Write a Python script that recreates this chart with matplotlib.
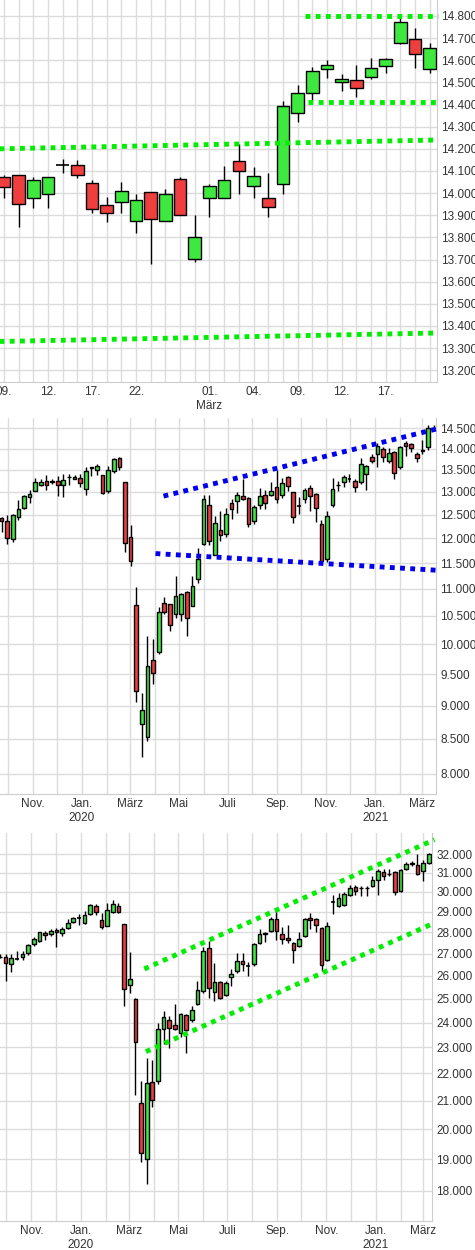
import matplotlib
matplotlib.use("Agg")

import numpy as np
import pandas as pd
import matplotlib.pyplot as plt
import matplotlib.dates as mdates
from matplotlib.ticker import FixedLocator, FuncFormatter, NullLocator

plt.rcParams['font.family'] = ['Liberation Sans', 'DejaVu Sans']

GREEN = "#3ee83e"
RED = "#ee3e3e"
LINE_GREEN = "#00ee00"
LINE_BLUE = "#0000ee"
GRID = "#dcdcdc"

# ---- Panel 1: daily, 09. Feb - 22. Mar 2021 ----
day_labels = ["09.", "", "", "12.", "", "", "17.", "", "", "22.", "", "", "", "",
              "01.", "", "", "04.", "", "", "09.", "", "", "12.", "", "", "17.", "", "", ""]
d_open = [14074, 14084, 13980, 13994, 14129, 14125, 14046, 13948, 13962, 13876,
          14003, 13876, 14064, 13704, 13980, 13980, 14146, 14034, 13980, 14043,
          14360, 14450, 14559, 14500, 14513, 14525, 14572, 14676, 14697, 14559]
d_close = [14029, 13953, 14061, 14071, 14129, 14084, 13930, 13908, 14010, 13971,
           13885, 13994, 13899, 13804, 14033, 14061, 14098, 14075, 13938, 14394,
           14450, 14550, 14577, 14515, 14473, 14563, 14604, 14771, 14628, 14654]
d_high = [14081, 14084, 14071, 14071, 14152, 14149, 14058, 13983, 14051, 13995,
          14007, 14018, 14071, 13900, 14043, 14122, 14221, 14119, 14092, 14416,
          14488, 14571, 14601, 14538, 14578, 14608, 14608, 14789, 14744, 14676]
d_low = [13980, 13848, 13933, 13933, 14092, 14069, 13911, 13870, 13912, 13820,
         13682, 13876, 13899, 13689, 13893, 13980, 13998, 13980, 13890, 13995,
         14322, 14420, 14522, 14462, 14435, 14516, 14544, 14672, 14566, 14544]
p1_lines = [((20.5, 14800), (29.6, 14800)),
            ((20.7, 14412), (29.6, 14412)),
            ((-0.3, 14200), (29.6, 14240)),
            ((-0.3, 13330), (29.3, 13368))]
p1_ticks = list(range(13200, 14801, 100))

# ---- Panel 2: weekly DAX ----
w2_open = [12431, 12368, 11993, 12444, 12640, 12890, 13023, 13162, 13254, 13231,
           13254, 13146, 13330, 13300, 13308, 13070, 13540, 13508, 13377, 13015,
           13484, 13770, 13231, 12034, 10698, 8725, 8525, 9728, 9867, 10735,
           10716, 10543, 10543, 10950, 10680, 11184, 11892, 12713, 11655, 12176,
           12081, 12757, 12801, 12897, 12860, 12360, 12713, 12919, 12919, 13100,
           12934, 13330, 12993, 12684, 12838, 13092, 12940, 12294, 11574, 12699,
           13146, 13223, 13300, 13246, 13223, 13400, 13794, 13881, 13984, 13699,
           13929, 13555, 14143, 14104, 13865, 13950, 14032, 14500]
w2_close = [12368, 12014, 12493, 12617, 12897, 12956, 13223, 13231, 13162, 13254,
            13162, 13277, 13345, 13345, 13208, 13485, 13555, 13585, 12978, 13508,
            13746, 13571, 11899, 11534, 9220, 8925, 9633, 9522, 10568, 10580,
            10330, 10858, 10901, 10455, 11063, 11588, 12845, 11953, 12325, 12074,
            12507, 12625, 12919, 12831, 12294, 12670, 12897, 12757, 13023, 12845,
            13200, 13123, 12441, 12684, 13038, 12904, 12640, 11540, 12478, 13070,
            13162, 13338, 13300, 13110, 13627, 13587, 13715, 14064, 13794, 13889,
            13438, 14048, 14064, 14008, 13786, 13960, 14500, 14515]
w2_high = [12450, 12493, 12507, 12809, 12919, 13030, 13315, 13300, 13377, 13300,
           13354, 13415, 13415, 13390, 13415, 13555, 13570, 13645, 13390, 13590,
           13786, 13802, 13231, 12270, 11030, 9199, 10143, 10090, 10667, 10840,
           10716, 11240, 10920, 10963, 11240, 11810, 12919, 12919, 12478, 12588,
           12647, 12845, 12993, 13300, 12882, 12699, 13092, 13030, 13223, 13492,
           13323, 13354, 12993, 12875, 13092, 13146, 12970, 12385, 12588, 13315,
           13254, 13377, 13415, 13300, 13786, 13611, 13865, 14127, 14048, 14008,
           13945, 14072, 14185, 14127, 13913, 14200, 14583, 14590]
w2_low = [12130, 11880, 11930, 12375, 12625, 12750, 13008, 13130, 13030, 13185,
          12905, 12880, 13146, 13285, 13110, 12920, 13354, 13377, 12955, 12970,
          13437, 13492, 11723, 11440, 9054, 8243, 8463, 9332, 9839, 10530,
          10230, 10468, 10417, 10150, 10680, 11120, 11858, 11858, 11655, 11946,
          12027, 12410, 12537, 12809, 12226, 12294, 12610, 12617, 12897, 12757,
          12860, 13008, 12314, 12514, 12757, 12573, 12338, 11520, 11520, 12662,
          13008, 13110, 13223, 13000, 13169, 13030, 13651, 13571, 13675, 13651,
          13300, 13531, 13833, 13929, 13675, 13865, 13976, 14460]
p2_lines = [(("2020-04-12", 12904), ("2021-03-22", 14500)),
            (("2020-04-02", 11689), ("2021-03-24", 11354))]
p2_ticks = [8000, 8500, 9000, 9500, 10000, 10500, 11000, 11500, 12000, 12500,
            13000, 13500, 14000, 14500]

# ---- Panel 3: weekly Dow ----
w3_open = [26844, 26844, 26500, 26770, 26860, 27045, 27424, 27600, 27985, 27924,
           28110, 27955, 28183, 28500, 28667, 28450, 28867, 29280, 28583, 28317,
           29000, 29295, 28383, 25571, 24986, 20919, 19022, 21687, 21700, 23724,
           24111, 23882, 23592, 24292, 24083, 24778, 25314, 27242, 25271, 25700,
           25157, 25957, 26190, 26656, 26453, 26531, 27500, 27933, 28050, 28650,
           27909, 27727, 27500, 27348, 27803, 28683, 28650, 28200, 26719, 29508,
           29279, 29344, 29820, 30250, 30180, 30180, 30286, 30589, 31036, 30929,
           31018, 30049, 31196, 31480, 31430, 31071, 31518]
w3_close = [26860, 26578, 26812, 26770, 26970, 27379, 27700, 28000, 27860, 28080,
            28015, 28160, 28450, 28667, 28667, 28850, 29344, 29000, 28250, 29100,
            29377, 29000, 25414, 25843, 23197, 19198, 21662, 21037, 23724, 24236,
            23778, 23750, 24333, 23695, 24500, 25371, 27136, 25457, 25700, 25028,
            25657, 26078, 26656, 26500, 26453, 27455, 27909, 27950, 28650, 28083,
            27682, 27620, 27167, 27682, 28617, 28583, 28333, 26469, 28300, 29508,
            29689, 29885, 30196, 30018, 30196, 30196, 30625, 31107, 30840, 30946,
            30000, 31161, 31464, 31500, 30929, 31500, 32000]
w3_high = [27000, 27000, 27000, 27120, 27120, 27424, 27770, 28030, 28060, 28160,
           28190, 28240, 28617, 28750, 28900, 29017, 29393, 29360, 28950, 29410,
           29600, 29410, 28383, 27090, 25030, 21725, 22570, 22500, 23990, 24470,
           24264, 24790, 24403, 24361, 24680, 25771, 27303, 27576, 26580, 25750,
           25750, 26300, 27045, 27045, 26610, 27500, 28150, 28030, 28750, 29064,
           28233, 28367, 27530, 28030, 28683, 28950, 28700, 28230, 28483, 29852,
           29930, 29967, 30375, 30339, 30286, 30286, 30804, 31196, 31214, 31214,
           31070, 31214, 31571, 31607, 32018, 31700, 32055]
w3_low = [26800, 25743, 26140, 26700, 26700, 26920, 27350, 27530, 27650, 27830,
          27300, 27830, 28150, 28450, 28370, 28417, 28817, 28850, 28150, 28283,
          28950, 28950, 24680, 25243, 21200, 18920, 18215, 20770, 21625, 23132,
          22960, 23685, 23395, 22790, 24014, 24722, 25243, 25028, 24890, 24986,
          25100, 25530, 26110, 26190, 26000, 26453, 27455, 27530, 28000, 27650,
          27424, 27470, 26580, 27318, 27758, 28167, 28030, 26190, 26656, 28867,
          29246, 29279, 29770, 29852, 29770, 29770, 30250, 29852, 30589, 30840,
          29836, 30000, 31125, 31340, 30893, 30536, 31480]
p3_lines = [(("2020-03-20", 26297), ("2021-03-15", 32794)),
            (("2020-03-22", 22833), ("2021-03-15", 28450))]
p3_ticks = [18000, 19000, 20000, 21000, 22000, 23000, 24000, 25000, 26000,
            27000, 28000, 29000, 30000, 31000, 32000]

month_names = {1: "Jan.", 3: "März", 5: "Mai", 7: "Juli", 9: "Sep.", 11: "Nov."}


def de_fmt(v, pos=None):
    return f"{int(round(v)):,}".replace(",", ".")


def candles(ax, x, o, c, h, l, width):
    for xi, oi, ci, hi, li in zip(x, o, c, h, l):
        ax.vlines(xi, li, hi, color="black", lw=1, zorder=2)
        if oi == ci:
            ax.hlines(oi, xi - width / 2, xi + width / 2, color="black", lw=1.2, zorder=3)
        else:
            col = GREEN if ci > oi else RED
            ax.bar(xi, abs(ci - oi), bottom=min(oi, ci), width=width, color=col,
                   edgecolor="black", lw=1, zorder=3)


def style(ax, ticks):
    ax.yaxis.tick_right()
    ax.yaxis.set_major_locator(FixedLocator(ticks))
    ax.yaxis.set_minor_locator(NullLocator())
    ax.yaxis.set_major_formatter(FuncFormatter(de_fmt))
    ax.tick_params(axis="both", length=0, labelsize=8.5, colors="#333333", pad=3)
    ax.grid(True, color=GRID, lw=1, zorder=0)
    for s in ["top", "left"]:
        ax.spines[s].set_visible(False)
    for s in ["right", "bottom"]:
        ax.spines[s].set_color("#cccccc")


def dotted(ax, pts, color):
    (x0, y0), (x1, y1) = pts
    ax.plot([x0, x1], [y0, y1], color=color, lw=3.5, linestyle=(0, (1, 1.1)),
            zorder=4, clip_on=False)


def month_axis(ax, start, end):
    months = pd.date_range(start, end, freq="MS")
    ax.xaxis.set_major_locator(FixedLocator(mdates.date2num(months)))
    labels = []
    for m in months:
        lab = month_names.get(m.month, "")
        if m.month == 1:
            lab += "\n" + str(m.year)
        labels.append(lab)
    ax.set_xticklabels(labels)
    ax.set_xlim(mdates.date2num(pd.Timestamp(start)), mdates.date2num(pd.Timestamp(end)))


fig = plt.figure(figsize=(4.75, 12.5), dpi=100)

# Panel 1
ax1 = fig.add_axes([0, 1 - 382 / 1250, 437 / 475, 382 / 1250])
x1 = np.arange(len(d_open))
candles(ax1, x1, d_open, d_close, d_high, d_low, 0.86)
for pts in p1_lines:
    dotted(ax1, pts, LINE_GREEN)
ax1.set_xlim(-0.27, 29.5)
ax1.set_ylim(13147, 14872)
style(ax1, p1_ticks)
ax1.set_xticks(x1)
ax1.set_xticklabels([lab + ("\nMärz" if i == 14 else "") for i, lab in enumerate(day_labels)])

# Panel 2
ax2 = fig.add_axes([0, 1 - 794 / 1250, 436 / 475, 376 / 1250])
ax2.set_yscale("log")
x2 = mdates.date2num(pd.date_range("2019-09-23", periods=len(w2_open), freq="7D"))
candles(ax2, x2, w2_open, w2_close, w2_high, w2_low, 4.6)
for (a, b) in p2_lines:
    dotted(ax2, ((mdates.date2num(pd.Timestamp(a[0])), a[1]),
                 (mdates.date2num(pd.Timestamp(b[0])), b[1])), LINE_BLUE)
ax2.set_ylim(7729, 14760)
style(ax2, p2_ticks)
month_axis(ax2, "2019-09-21", "2021-03-18")

# Panel 3
ax3 = fig.add_axes([0, 1 - 1221 / 1250, 432 / 475, 388 / 1250])
ax3.set_yscale("log")
x3 = mdates.date2num(pd.date_range("2019-09-23", periods=len(w3_open), freq="7D"))
candles(ax3, x3, w3_open, w3_close, w3_high, w3_low, 4.6)
for (a, b) in p3_lines:
    dotted(ax3, ((mdates.date2num(pd.Timestamp(a[0])), a[1]),
                 (mdates.date2num(pd.Timestamp(b[0])), b[1])), LINE_GREEN)
ax3.set_ylim(17100, 33171)
style(ax3, p3_ticks)
month_axis(ax3, "2019-09-23", "2021-03-12")

fig.savefig("out.png", dpi=100)
